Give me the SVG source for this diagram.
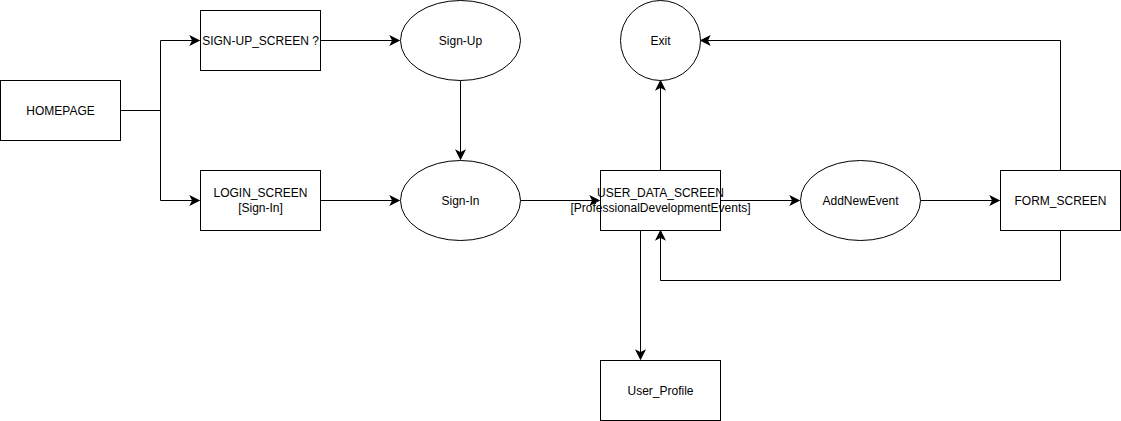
<svg xmlns="http://www.w3.org/2000/svg" width="1121" height="421" viewBox="0 0 1121 421">
<style>
.n{fill:#fff;stroke:#000;stroke-width:1}
.t{font-family:"Liberation Sans",Arial,sans-serif;font-size:12px;fill:#000;text-anchor:middle;dominant-baseline:central}
.c{fill:none;stroke:#000;stroke-width:1;marker-end:url(#a)}
</style>
<defs>
<marker id="a" markerUnits="userSpaceOnUse" markerWidth="12" markerHeight="12" viewBox="-8 -5 10 10" refX="0" refY="0" orient="auto" overflow="visible">
<path d="M0,0 L-7,-3.5 L-5.25,0 L-7,3.5 Z" fill="#000" stroke="#000" stroke-width="1"/>
</marker>
</defs>
<rect width="1121" height="421" fill="#fff"/>
<g id="connectors">
<path class="c" d="M120.5,110.5 H160.5 V40.5 H199"/>
<path class="c" d="M120.5,110.5 H160.5 V200.5 H199"/>
<path class="c" d="M320.5,40.5 H399"/>
<path class="c" d="M460.5,80.5 V159"/>
<path class="c" d="M320.5,200.5 H399"/>
<path class="c" d="M520.5,200.5 H599"/>
<path class="c" d="M660.5,170.5 V81"/>
<path class="c" d="M720.5,200.5 H799"/>
<path class="c" d="M920.5,200.5 H999"/>
<path class="c" d="M1060.5,170.5 V40.5 H701"/>
<path class="c" d="M1060.5,230.5 V280.5 H660.5 V231"/>
<path class="c" d="M640.5,230.5 V359"/>
</g>
<g id="homepage"><rect class="n" x="0.5" y="80.5" width="120" height="60"/><text class="t" x="60.5" y="110.5">HOMEPAGE</text></g>
<g id="signup-screen"><rect class="n" x="200.5" y="10.5" width="120" height="60"/><text class="t" x="260.5" y="40.5">SIGN-UP_SCREEN ?</text></g>
<g id="login-screen"><rect class="n" x="200.5" y="170.5" width="120" height="60"/><text class="t" x="260.5" y="192.5">LOGIN_SCREEN</text><text class="t" x="260.5" y="207.5">[Sign-In]</text></g>
<g id="sign-up"><ellipse class="n" cx="460.5" cy="40.5" rx="60" ry="40"/><text class="t" x="460.5" y="40.5">Sign-Up</text></g>
<g id="sign-in"><ellipse class="n" cx="460.5" cy="200.5" rx="60" ry="40"/><text class="t" x="460.5" y="200.5">Sign-In</text></g>
<g id="user-data-screen"><rect class="n" x="600.5" y="170.5" width="120" height="60"/><text class="t" x="660.5" y="192.5">USER_DATA_SCREEN</text><text class="t" x="660.5" y="207.5">[ProfessionalDevelopmentEvents]</text></g>
<g id="exit"><ellipse class="n" cx="660.5" cy="40.5" rx="40" ry="40"/><text class="t" x="660.5" y="40.5">Exit</text></g>
<g id="add-new-event"><ellipse class="n" cx="860.5" cy="200.5" rx="60" ry="40"/><text class="t" x="860.5" y="200.5">AddNewEvent</text></g>
<g id="form-screen"><rect class="n" x="1000.5" y="170.5" width="120" height="60"/><text class="t" x="1060.5" y="200.5">FORM_SCREEN</text></g>
<g id="user-profile"><rect class="n" x="600.5" y="360.5" width="120" height="60"/><text class="t" x="660.5" y="390.5">User_Profile</text></g>
</svg>
